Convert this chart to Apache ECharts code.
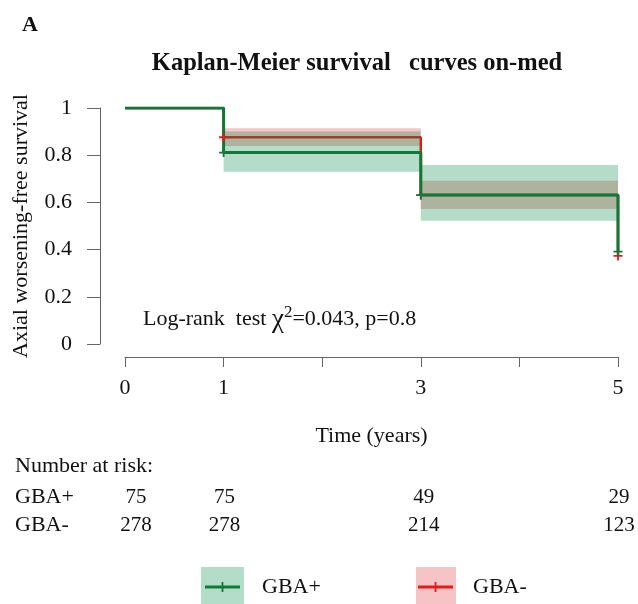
<!DOCTYPE html>
<html><head><meta charset="utf-8">
<script src="https://cdn.jsdelivr.net/npm/echarts@6/dist/echarts.min.js"></script>
<style>html,body{margin:0;padding:0;background:#fff}#c{width:638px;height:604px}</style>
</head><body><div id="c"></div>
<script>
const FONT = "'Liberation Serif', 'Times New Roman', serif";
// ---- data ----
const times = [0, 1, 3, 5];
const survGBAplus = [1, 0.811, 0.631, 0.391];
const survGBAminus = [1, 0.876, 0.631, 0.373];
const bandStart = [1, 3];
const bandEnd = [3, 5];
const lowerGBAplus = [0.730, 0.522];
const upperGBAplus = [0.900, 0.758];
const lowerGBAminus = [0.839, 0.572];
const upperGBAminus = [0.914, 0.692];
const censorTimes = [1, 3, 5];
const censorGBAplus = [0.811, 0.631, 0.391];
const censorGBAminus = [0.876, 0.631, 0.373];
const riskTimes = [0, 1, 3, 5];
const riskGBAplus = [75, 75, 49, 29];
const riskGBAminus = [278, 278, 214, 123];
const riskRows = ['GBA-', 'GBA+'];
const xTickLabels = {0: '0', 1: '1', 3: '3', 5: '5'};

// ---- styles ----
const GREEN = '#0f7a37', RED = '#e41a1c';
const GREEN_BAND = 'rgba(5,138,72,0.3)', RED_BAND = 'rgba(219,19,19,0.25)';
const GREEN_BOX = '#b3dcc9', RED_BOX = '#f6c4c4';
const PLUS = 'path://M3.6,0H5.4V3.6H9V5.4H5.4V9H3.6V5.4H0V3.6H3.6Z';
const LEG_ICON = 'path://M0,3.5H35V6.5H0Z M16.6,0H18.4V10H16.6Z';
const riskLabelShift = [11, 1, 3, 1];

function bandSeries(name, lower, upper, color, z) {
  return {
    type: 'custom', name, z, silent: true,
    xAxisIndex: 0, yAxisIndex: 0,
    itemStyle: {color: name === 'GBA+' ? GREEN : RED},
    data: bandStart.map((s, i) => [s, bandEnd[i], lower[i], upper[i]]),
    encode: {x: [0, 1], y: [2, 3]},
    renderItem(params, api) {
      const p1 = api.coord([api.value(0), api.value(3)]);
      const p2 = api.coord([api.value(1), api.value(2)]);
      return {type: 'rect', shape: {x: p1[0], y: p1[1], width: p2[0] - p1[0], height: p2[1] - p1[1]},
              style: {fill: color}};
    }
  };
}
function lineSeries(name, surv, color, width, z) {
  return {type: 'line', name, z, step: 'end', symbol: 'none', silent: true,
    data: times.map((t, i) => [t, surv[i]]),
    lineStyle: {color, width}, itemStyle: {color}};
}
function censorSeries(name, vals, color, z) {
  return {type: 'scatter', name, z, symbol: PLUS, symbolSize: 9, silent: true,
    data: censorTimes.map((t, i) => [t, vals[i]]), itemStyle: {color, opacity: 1}};
}
function riskSeries(name, vals) {
  return {type: 'scatter', name: name, xAxisIndex: 1, yAxisIndex: 1, symbolSize: 0, silent: true,
    itemStyle: {opacity: 1},
    data: riskTimes.map((t, i) => ({value: [t, name, vals[i]], label: {offset: [riskLabelShift[i], 0]}})),
    label: {show: true, position: 'inside', formatter: p => String(p.value[2]), opacity: 1,
            color: '#111', fontFamily: FONT, fontSize: 21, textBorderWidth: 0}};
}

const chart = echarts.init(document.getElementById('c'));
chart.setOption({
  animation: false,
  backgroundColor: '#fff',
  title: [
    {text: 'A', left: 22, top: 14, padding: 0, textStyle: {fontFamily: FONT, fontSize: 22, fontWeight: 'bold', color: '#111'}},
    {text: 'Kaplan-Meier survival   curves on-med', left: 357, top: 51, padding: 0, textAlign: 'center',
     textStyle: {fontFamily: FONT, fontSize: 24.5, fontWeight: 'bold', color: '#111'}},
    {text: '{a|Log-rank  test }{c|\u03C7}{s|2}{a|=0.043, p=0.8}', left: 143, top: 304, padding: 0,
     textStyle: {fontWeight: 'normal',
                 rich: {a: {fontFamily: FONT, fontSize: 22, fontWeight: 'normal', color: '#111'},
                        c: {fontFamily: FONT, fontSize: 27, fontWeight: 'normal', color: '#111'},
                        s: {fontFamily: FONT, fontSize: 17, fontWeight: 'normal', color: '#111', padding: [0, 0, 14, 0]}}}},
    {text: 'Number at risk:', left: 15, top: 455, padding: 0, textStyle: {fontFamily: FONT, fontSize: 22, fontWeight: 'normal', color: '#111'}}
  ],
  grid: [
    {left: 125, right: 20, top: 108, bottom: 260},
    {left: 125, right: 20, top: 483, height: 56}
  ],
  xAxis: [
    {type: 'value', min: 0, max: 5, interval: 1, offset: 13, gridIndex: 0,
     name: 'Time (years)', nameLocation: 'middle', nameGap: 68,
     nameTextStyle: {fontFamily: FONT, fontSize: 22, color: '#111'},
     axisLine: {onZero: false, lineStyle: {color: '#666', width: 1}},
     axisTick: {length: 10, lineStyle: {color: '#666'}},
     axisLabel: {margin: 20, fontFamily: FONT, fontSize: 22, color: '#111', formatter: v => xTickLabels[v] || ''},
     splitLine: {show: false}},
    {type: 'value', min: 0, max: 5, gridIndex: 1, show: false}
  ],
  yAxis: [
    {type: 'value', min: 0, max: 1, interval: 0.2, offset: 25, gridIndex: 0,
     name: 'Axial worsening-free survival', nameLocation: 'middle', nameGap: 68,
     nameTextStyle: {fontFamily: FONT, fontSize: 22, color: '#111'},
     axisLine: {show: true, onZero: false, lineStyle: {color: '#666', width: 1}},
     axisTick: {show: true, length: 13, lineStyle: {color: '#666'}},
     axisLabel: {margin: 28, fontFamily: FONT, fontSize: 22, color: '#111'},
     splitLine: {show: false}},
    {type: 'category', data: riskRows, gridIndex: 1,
     axisLine: {show: false}, axisTick: {show: false}, splitLine: {show: false},
     axisLabel: {interval: 0, hideOverlap: false, align: 'left', margin: 110, fontFamily: FONT, fontSize: 22, color: '#111'}}
  ],
  legend: [
    {data: [{name: 'GBA+', icon: LEG_ICON, itemStyle: {color: GREEN}}], left: 205, top: 576,
     itemWidth: 35, itemHeight: 10, padding: 0, selectedMode: false,
     textStyle: {fontFamily: FONT, fontSize: 22, color: '#111', padding: [0, 0, 0, 17]}},
    {data: [{name: 'GBA-', icon: LEG_ICON, itemStyle: {color: RED}}], left: 418, top: 576,
     itemWidth: 35, itemHeight: 10, padding: 0, selectedMode: false,
     textStyle: {fontFamily: FONT, fontSize: 22, color: '#111', padding: [0, 0, 0, 15]}}
  ],
  graphic: [
    {type: 'rect', left: 201, top: 567, z: -10, shape: {width: 43, height: 45}, style: {fill: GREEN_BOX}},
    {type: 'rect', left: 416, top: 567, z: -10, shape: {width: 40, height: 45}, style: {fill: RED_BOX}}
  ],
  series: [
    bandSeries('GBA-', lowerGBAminus, upperGBAminus, RED_BAND, 1),
    lineSeries('GBA-', survGBAminus, RED, 2.5, 2),
    bandSeries('GBA+', lowerGBAplus, upperGBAplus, GREEN_BAND, 3),
    lineSeries('GBA+', survGBAplus, GREEN, 3, 4),
    censorSeries('GBA-', censorGBAminus, RED, 5),
    censorSeries('GBA+', censorGBAplus, GREEN, 6),
    riskSeries('GBA+', riskGBAplus),
    riskSeries('GBA-', riskGBAminus)
  ]
});
</script></body></html>
